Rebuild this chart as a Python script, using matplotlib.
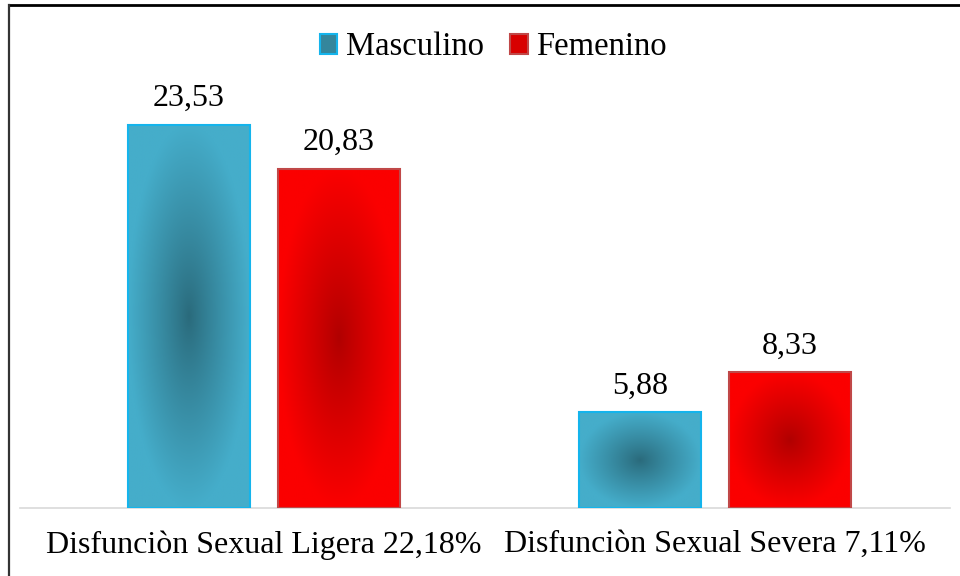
"""
Grouped bar chart: Disfuncion sexual por sexo (Masculino / Femenino)
"""
import numpy as np
import matplotlib
matplotlib.use("Agg")
import matplotlib.pyplot as plt
from matplotlib.colors import LinearSegmentedColormap
from matplotlib.lines import Line2D
from matplotlib.patches import Patch

categories = ["Disfunciòn Sexual Ligera 22,18%", "Disfunciòn Sexual Severa 7,11%"]
series_names = ["Masculino", "Femenino"]
masculino = [23.53, 5.88]
femenino = [20.83, 8.33]

plt.rcParams['font.family'] = ['Liberation Serif', 'DejaVu Serif']

# (center colour, outer colour, edge colour)
styles = {
    "Masculino": ("#2a6a7b", "#45adca", "#14b4ec"),
    "Femenino": ("#b00000", "#fb0000", "#c04848"),
}


def gradient_fill(ax, bar, c_in, c_out):
    """Radial gradient inside a bar, clipped to the bar."""
    x0, y0 = bar.get_x(), bar.get_y()
    w, h = bar.get_width(), bar.get_height()
    u = np.linspace(-1, 1, 200)
    uu, vv = np.meshgrid(u, u)
    r = np.clip(np.sqrt(uu ** 2 + vv ** 2), 0, 1) ** 0.9
    cmap = LinearSegmentedColormap.from_list("g", [c_in, c_out])
    im = ax.imshow(r, cmap=cmap, vmin=0, vmax=1, extent=[x0, x0 + w, y0, y0 + h],
                   origin="lower", aspect="auto", zorder=2, interpolation="bilinear")
    im.set_clip_path(bar)


fig = plt.figure(figsize=(9.6, 5.76), dpi=100)
# axes from pixel y=101 (value 25) down to the baseline at y=508
ax = fig.add_axes([20 / 960, 1 - 508 / 576, 930 / 960, 407 / 576])

x = np.arange(len(categories))
width = 0.27
gap = 0.062
offsets = [-(width + gap) / 2, (width + gap) / 2]

for name, vals, off in zip(series_names, [masculino, femenino], offsets):
    c_in, c_out, c_edge = styles[name]
    bars = ax.bar(x + off, vals, width, facecolor="none", edgecolor=c_edge,
                  linewidth=1.5, zorder=3)
    for b, v in zip(bars, vals):
        gradient_fill(ax, b, c_in, c_out)
        ax.annotate(f"{v:.2f}".replace(".", ","),
                    xy=(b.get_x() + b.get_width() / 2, v),
                    xytext=(0, 13.5), textcoords="offset points",
                    ha="center", va="baseline", fontsize=23)

ax.set_xlim(-0.54, 1.52)
ax.set_ylim(0, 25)
ax.set_yticks([])
ax.set_xticks(x)
ax.set_xticklabels(categories, fontsize=23)
ax.tick_params(axis="x", length=0, pad=16)
for s in ["top", "left", "right"]:
    ax.spines[s].set_visible(False)
ax.spines["bottom"].set_color("#d9d9d9")
ax.spines["bottom"].set_linewidth(1.2)
ax.set_facecolor("none")

handles = [Patch(facecolor="#34869c", edgecolor=styles["Masculino"][2], linewidth=1.5),
           Patch(facecolor="#d80000", edgecolor=styles["Femenino"][2], linewidth=1.5)]
fig.legend(handles, series_names, loc="center", bbox_to_anchor=(493 / 960, 1 - 47 / 576),
           ncol=2, frameon=False, fontsize=23.5, handlelength=0.55, handleheight=0.55,
           handletextpad=0.25, columnspacing=0.8)

# frame lines (top and left of the original picture)
fig.add_artist(Line2D([8.5 / 960, 1.0], [1 - 5 / 576, 1 - 5 / 576], color="black", linewidth=2))
fig.add_artist(Line2D([8.5 / 960, 8.5 / 960], [0, 1 - 5 / 576], color="#333333", linewidth=1.6))

plt.savefig("out.png", dpi=100, facecolor="white")
